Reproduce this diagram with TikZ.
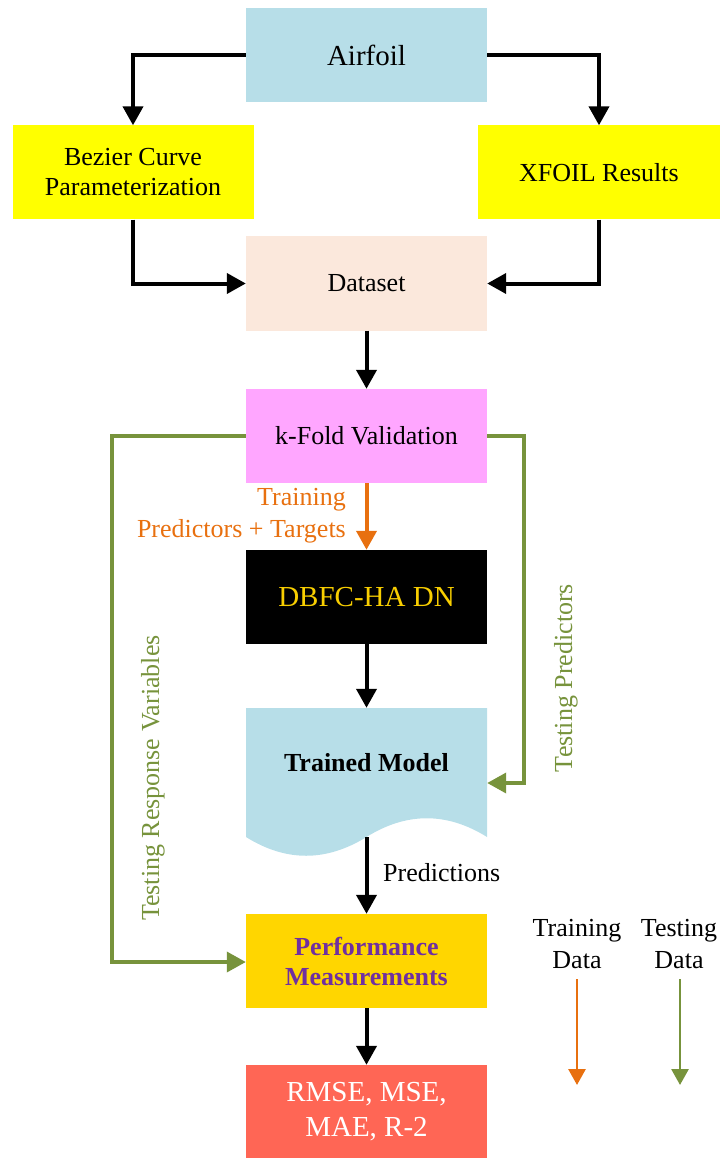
\documentclass[tikz,border=0pt]{standalone}
\usepackage{fontspec}
\setmainfont{Liberation Serif}
\usetikzlibrary{arrows.meta}
\definecolor{aqua}{HTML}{B7DEE8}
\definecolor{yel}{HTML}{FFFF00}
\definecolor{peach}{HTML}{FBE8DC}
\definecolor{viol}{HTML}{FFA6FF}
\definecolor{gold}{HTML}{FFD600}
\definecolor{dngold}{HTML}{F8CE00}
\definecolor{purp}{HTML}{7030A0}
\definecolor{tomato}{HTML}{FF6655}
\definecolor{orng}{HTML}{E8700F}
\definecolor{olive}{HTML}{77933C}
\tikzset{
  box/.style={minimum width=241pt, minimum height=94pt, inner sep=0pt, align=center,
    font=\fontsize{26}{30}\selectfont},
  lbl/.style={inner sep=0pt, font=\fontsize{26}{32}\selectfont},
  blk/.style={line width=4pt, line join=miter, -{Triangle[length=19pt,width=20pt]}},
  grn/.style={olive, line width=3.6pt, line join=miter, -{Triangle[length=19pt,width=20pt]}},
  org/.style={orng, line width=4pt, -{Triangle[length=19pt,width=20pt]}},
  leg/.style={line width=2.8pt, -{Triangle[length=16pt,width=17pt]}}
}
\begin{document}
\begin{tikzpicture}[x=1pt,y=-1pt]
\useasboundingbox (0,0) rectangle (720,1158);
\node[box, fill=aqua, font=\fontsize{29}{34}\selectfont] (air) at (366.5,55.5) {Airfoil};
\node[box, fill=yel] (bez) at (133,172.5) {Bezier Curve\\Parameterization};
\node[box, fill=yel, minimum width=242pt] (xf) at (599,172.5) {XFOIL Results};
\node[box, fill=peach] (ds) at (366.5,283.5) {Dataset};
\node[box, fill=viol] (kf) at (366.5,436) {k-Fold Validation};
\node[box, fill=black, text=dngold, font=\fontsize{29}{34}\selectfont] (dn) at (366.5,597) {DBFC-HA DN};
% trained model document shape
\fill[aqua] (246,708) -- (487,708) -- (487,837)
  .. controls (447,812) and (406.5,812) .. (366.5,837)
  .. controls (326,862) and (286,862) .. (246,837) -- cycle;
\node[box, minimum height=129pt] (tm) at (366.5,772.5) {};
\node[lbl, font=\fontsize{26}{30}\selectfont\bfseries] (tmt) at (366.5,763) {Trained Model};
\node[box, fill=gold, text=purp, font=\fontsize{26}{30}\selectfont\bfseries] (pm) at (366.5,961) {Performance\\Measurements};
\node[box, fill=tomato, text=white, font=\fontsize{29}{35}\selectfont] (rm) at (366.5,1112) {RMSE, MSE,\\MAE, R-2};

% black connectors
\draw[blk] (air.west) -| (bez.north);
\draw[blk] (air.east) -| (xf.north);
\draw[blk] (bez.south) |- (ds.west);
\draw[blk] (xf.south) |- (ds.east);
\draw[blk] (ds.south) -- (kf.north);
\draw[blk] (dn.south) -- (tm.north);
\draw[blk] (tm.south) -- (pm.north);
\draw[blk] (pm.south) -- (rm.north);
\node[lbl, anchor=west] (pred) at (383,873) {Predictions};

% orange training
\draw[org] (kf.south) -- (dn.north);
\node[lbl, anchor=east, align=right, text=orng] (trl) at (346,516) {Training\\Predictors + Targets};

% green testing
\coordinate (gl1) at (112,436);
\coordinate (gl2) at (112,962);
\coordinate (gr1) at (524,436);
\coordinate (gr2) at (524,783);
\draw[grn] (kf.west) -- (gl1) -- (gl2) -- (pm.west |- gl2);
\draw[grn] (kf.east) -- (gr1) -- (gr2) -- (tm.east |- gr2);
\node[lbl, rotate=90, text=olive] (trv) at (153,778) {Testing Response Variables};
\node[lbl, rotate=90, text=olive] (tpr) at (566,678) {Testing Predictors};

% legend
\node[lbl, align=center] (ltr) at (577,944) {Training\\Data};
\node[lbl, align=center] (lte) at (679,944) {Testing\\Data};
\coordinate (la1) at (577,979);
\coordinate (la2) at (577,1085);
\coordinate (lb1) at (680,979);
\coordinate (lb2) at (680,1085);
\draw[leg, orng] (la1) -- (la2);
\draw[leg, olive] (lb1) -- (lb2);
\end{tikzpicture}
\end{document}
